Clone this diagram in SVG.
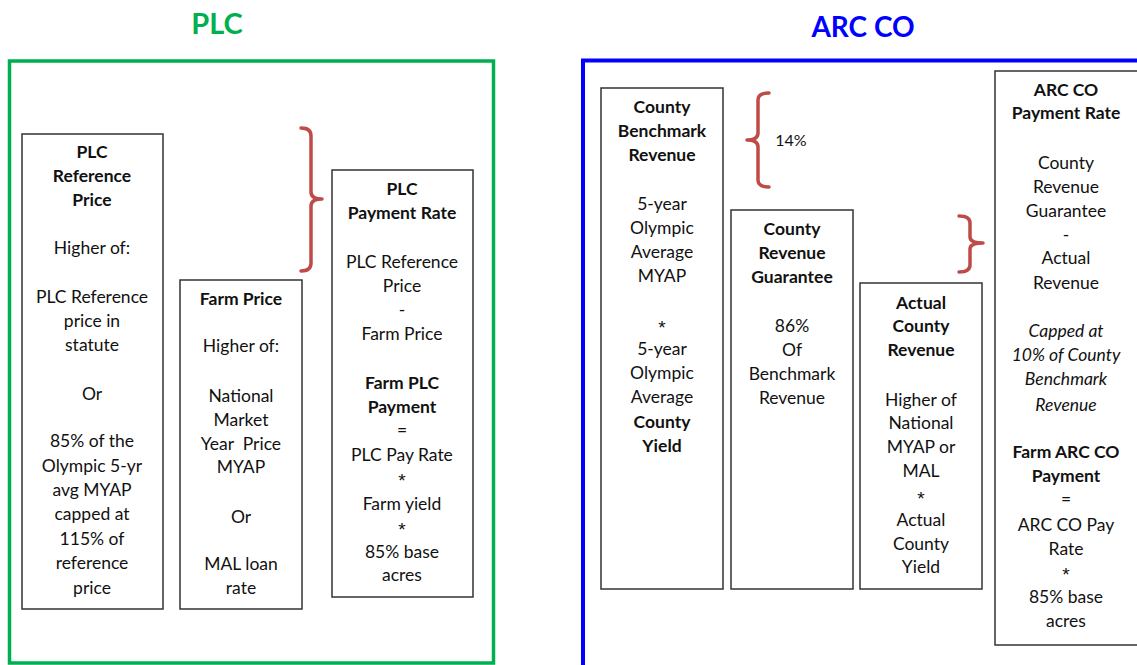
<svg xmlns="http://www.w3.org/2000/svg" width="1137" height="665" viewBox="0 0 1137 665">
<style>
text{font-family:Lato,"Open Sans","Liberation Sans",sans-serif;font-size:17.5px;fill:#111;text-anchor:middle}
.b{font-weight:bold}
.i{font-style:italic}
.s{font-family:"Liberation Sans",Arial,sans-serif;font-size:19px}
.box{fill:#fff;stroke:#333;stroke-width:1.5}
.brace{fill:none;stroke:#BE4B48;stroke-width:3.5;stroke-linejoin:round;stroke-linecap:round}
</style>
<rect width="1137" height="665" fill="#fff"/>
<g id="plc-section">
<text x="217" y="34" class="b" style="font-size:29px;fill:#00B050">PLC</text>
<rect x="9.5" y="61" width="484" height="602" fill="none" stroke="#00B050" stroke-width="3.5"/>
</g>
<g id="arc-section">
<text x="863" y="37" class="b" style="font-size:28px;fill:#0000FF">ARC CO</text>
<rect x="583" y="60.5" width="600" height="640" fill="none" stroke="#0000FF" stroke-width="4"/>
</g>
<g id="plc-reference-price">
<rect class="box" x="22" y="134" width="141" height="475"/>
<text x="92" y="158" class="b">PLC</text>
<text x="92" y="182" class="b">Reference</text>
<text x="92" y="206" class="b">Price</text>
<text x="92" y="254">Higher of:</text>
<text x="92" y="303">PLC Reference</text>
<text x="92" y="327">price in</text>
<text x="92" y="351">statute</text>
<text x="92" y="400">Or</text>
<text x="92" y="447">85% of the</text>
<text x="92" y="472">Olympic 5-yr</text>
<text x="92" y="496">avg MYAP</text>
<text x="92" y="520">capped at</text>
<text x="92" y="545">115% of</text>
<text x="92" y="569">reference</text>
<text x="92" y="594">price</text>
</g>
<g id="farm-price">
<rect class="box" x="180" y="280" width="122" height="329"/>
<text x="241" y="305" class="b">Farm Price</text>
<text x="241" y="352">Higher of:</text>
<text x="241" y="402">National</text>
<text x="241" y="426">Market</text>
<text x="241" y="450" style="white-space:pre">Year  Price</text>
<text x="241" y="473">MYAP</text>
<text x="241" y="523">Or</text>
<text x="241" y="570">MAL loan</text>
<text x="241" y="594">rate</text>
</g>
<g id="plc-payment-rate">
<rect class="box" x="332" y="170" width="141" height="427"/>
<text x="402" y="195" class="b">PLC</text>
<text x="402" y="219" class="b">Payment Rate</text>
<text x="402" y="268">PLC Reference</text>
<text x="402" y="292">Price</text>
<text x="402" y="316">-</text>
<text x="402" y="340">Farm Price</text>
<text x="402" y="389" class="b">Farm PLC</text>
<text x="402" y="413" class="b">Payment</text>
<text x="402" y="436">=</text>
<text x="402" y="461">PLC Pay Rate</text>
<text x="402" y="487" class="s">*</text>
<text x="402" y="510">Farm yield</text>
<text x="402" y="536" class="s">*</text>
<text x="402" y="558">85% base</text>
<text x="402" y="581">acres</text>
</g>
<g id="county-benchmark-revenue">
<rect class="box" x="601" y="88" width="122" height="501"/>
<text x="662" y="113" class="b">County</text>
<text x="662" y="137" class="b">Benchmark</text>
<text x="662" y="161" class="b">Revenue</text>
<text x="662" y="210">5-year</text>
<text x="662" y="234">Olympic</text>
<text x="662" y="258">Average</text>
<text x="662" y="282">MYAP</text>
<text x="662" y="334" class="s">*</text>
<text x="662" y="355">5-year</text>
<text x="662" y="379">Olympic</text>
<text x="662" y="403">Average</text>
<text x="662" y="428" class="b">County</text>
<text x="662" y="452" class="b">Yield</text>
</g>
<g id="county-revenue-guarantee">
<rect class="box" x="731" y="210" width="122" height="379"/>
<text x="792" y="235" class="b">County</text>
<text x="792" y="259" class="b">Revenue</text>
<text x="792" y="283" class="b">Guarantee</text>
<text x="792" y="332">86%</text>
<text x="792" y="356">Of</text>
<text x="792" y="380">Benchmark</text>
<text x="792" y="404">Revenue</text>
</g>
<g id="actual-county-revenue">
<rect class="box" x="860" y="283" width="122" height="306"/>
<text x="921" y="309" class="b">Actual</text>
<text x="921" y="332" class="b">County</text>
<text x="921" y="356" class="b">Revenue</text>
<text x="921" y="406">Higher of</text>
<text x="921" y="429">National</text>
<text x="921" y="453">MYAP or</text>
<text x="921" y="477">MAL</text>
<text x="921" y="505" class="s">*</text>
<text x="921" y="526">Actual</text>
<text x="921" y="550">County</text>
<text x="921" y="573">Yield</text>
</g>
<g id="arc-co-payment-rate">
<rect class="box" x="995" y="71" width="160" height="574"/>
<text x="1066" y="96" class="b">ARC CO</text>
<text x="1066" y="119" class="b">Payment Rate</text>
<text x="1066" y="169">County</text>
<text x="1066" y="193">Revenue</text>
<text x="1066" y="217">Guarantee</text>
<text x="1066" y="241">-</text>
<text x="1066" y="264">Actual</text>
<text x="1066" y="289">Revenue</text>
<text x="1066" y="337" class="i">Capped at</text>
<text x="1066" y="361" class="i">10% of County</text>
<text x="1066" y="385" class="i">Benchmark</text>
<text x="1066" y="411" class="i">Revenue</text>
<text x="1066" y="458" class="b">Farm ARC CO</text>
<text x="1066" y="482" class="b">Payment</text>
<text x="1066" y="505">=</text>
<text x="1066" y="531">ARC CO Pay</text>
<text x="1066" y="555">Rate</text>
<text x="1066" y="581" class="s">*</text>
<text x="1066" y="603">85% base</text>
<text x="1066" y="627">acres</text>
</g>
<g id="connectors">
<path class="brace" d="M301,128 Q311,128 311,136 L311,192 Q311,199 322,199 Q311,199 311,206 L311,263 Q311,271 301,271"/>
<path class="brace" d="M769,93 Q758,93 758,100 L758,133 Q758,140 747,140 Q758,140 758,147 L758,180 Q758,187 769,187"/>
<text x="791" y="146" style="font-size:16px">14%</text>
<path class="brace" d="M959,216 Q970,216 970,223 L970,237 Q970,243 983,243 Q970,243 970,249 L970,265 Q970,272 959,272"/>
</g>
</svg>
